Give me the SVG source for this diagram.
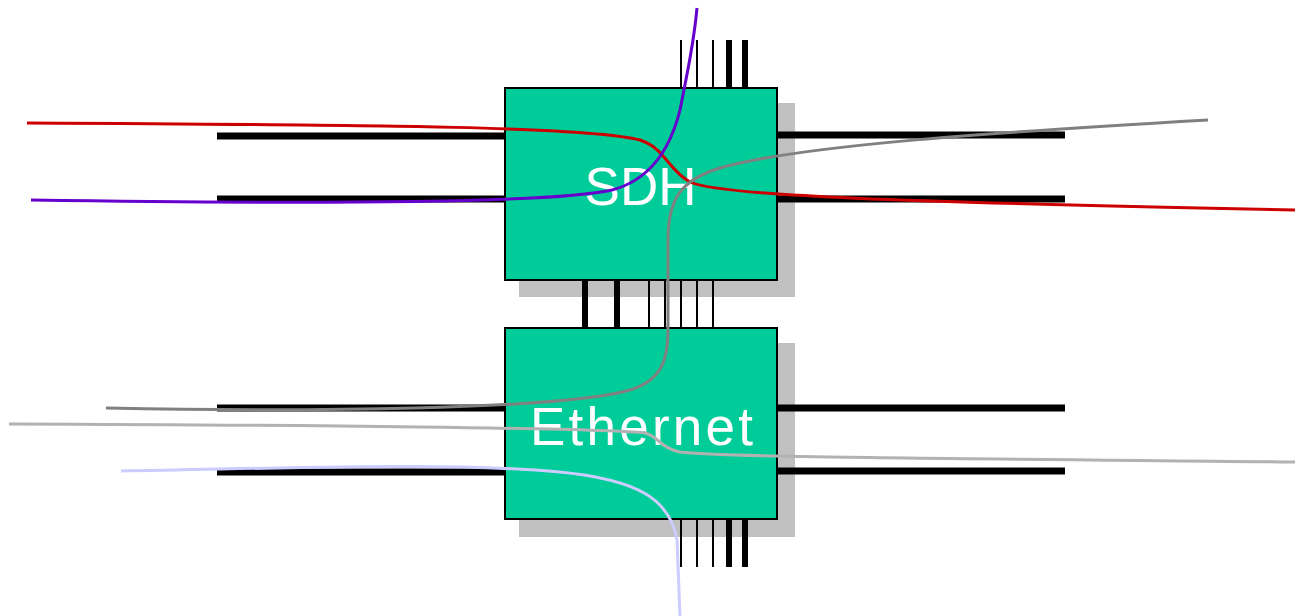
<svg xmlns="http://www.w3.org/2000/svg" width="1295" height="616" viewBox="0 0 1295 616">
<style>
.shadow{fill:#c0c0c0}
.box{fill:#00cc99;stroke:#000;stroke-width:2}
.bus{stroke:#000;stroke-width:7}
.pin{stroke:#000;stroke-width:2}
.pinw{stroke:#000;stroke-width:6}
.lbl{font-family:"Liberation Sans",Arial,sans-serif;font-size:53px;fill:#fff;text-anchor:middle}
.c{fill:none;stroke-width:3}
</style>
<rect width="1295" height="616" fill="#fff"/>
<g id="sdh">
<rect class="shadow" x="519" y="103" width="276" height="194"/>
<line class="bus" x1="217" y1="136" x2="505" y2="136"/>
<line class="bus" x1="217" y1="199" x2="505" y2="199"/>
<line class="bus" x1="777" y1="135" x2="1065" y2="135"/>
<line class="bus" x1="777" y1="199" x2="1065" y2="199"/>
<line class="pin" x1="681" y1="40" x2="681" y2="88"/>
<line class="pin" x1="697" y1="40" x2="697" y2="88"/>
<line class="pin" x1="713" y1="40" x2="713" y2="88"/>
<line class="pinw" x1="729" y1="40" x2="729" y2="88"/>
<line class="pinw" x1="745" y1="40" x2="745" y2="88"/>
<rect class="box" x="505" y="88" width="272" height="192"/>
<text class="lbl" x="640.5" y="205">SDH</text>
</g>
<g id="ethernet">
<rect class="shadow" x="519" y="343" width="276" height="194"/>
<line class="bus" x1="217" y1="408" x2="505" y2="408"/>
<line class="bus" x1="217" y1="472" x2="505" y2="472"/>
<line class="bus" x1="777" y1="408" x2="1065" y2="408"/>
<line class="bus" x1="777" y1="471" x2="1065" y2="471"/>
<line class="pin" x1="681" y1="519" x2="681" y2="567"/>
<line class="pin" x1="697" y1="519" x2="697" y2="567"/>
<line class="pin" x1="713" y1="519" x2="713" y2="567"/>
<line class="pinw" x1="729" y1="519" x2="729" y2="567"/>
<line class="pinw" x1="745" y1="519" x2="745" y2="567"/>
<rect class="box" x="505" y="328" width="272" height="191"/>
<text class="lbl" x="641.5" y="445" textLength="223" lengthAdjust="spacing">Ethernet</text>
</g>
<g id="interconnect">
<line class="pinw" x1="585" y1="280" x2="585" y2="328"/>
<line class="pinw" x1="617" y1="280" x2="617" y2="328"/>
<line class="pin" x1="649" y1="280" x2="649" y2="328"/>
<line class="pin" x1="665" y1="280" x2="665" y2="328"/>
<line class="pin" x1="681" y1="280" x2="681" y2="328"/>
<line class="pin" x1="697" y1="280" x2="697" y2="328"/>
<line class="pin" x1="713" y1="280" x2="713" y2="328"/>
</g>
<g id="connectors">
<path class="c" stroke="#cc0000" d="M27,123 C400,125 590,127 640,140 C665,148 668,170 690,182 C720,196 900,202 1295,210"/>
<path class="c" stroke="#6600cc" d="M31,200 C300,204 550,204 612,190 C650,180 670,150 680,110 C688,70 694,40 697,8"/>
<path class="c" stroke="#808080" d="M106,408 C300,412 560,410 630,390 C662,380 668,360 668,330 L668,240 C668,200 680,180 720,168 C800,145 1000,132 1208,120"/>
<path class="c" stroke="#b2b2b2" d="M9,424 C300,425 600,428 645,433 C658,436 660,448 680,452 C720,457 900,458 1295,462"/>
<path class="c" stroke="#ccccff" d="M121,471 C300,468 450,462 560,472 C640,480 670,500 677,540 L680,616"/>
</g>
</svg>
